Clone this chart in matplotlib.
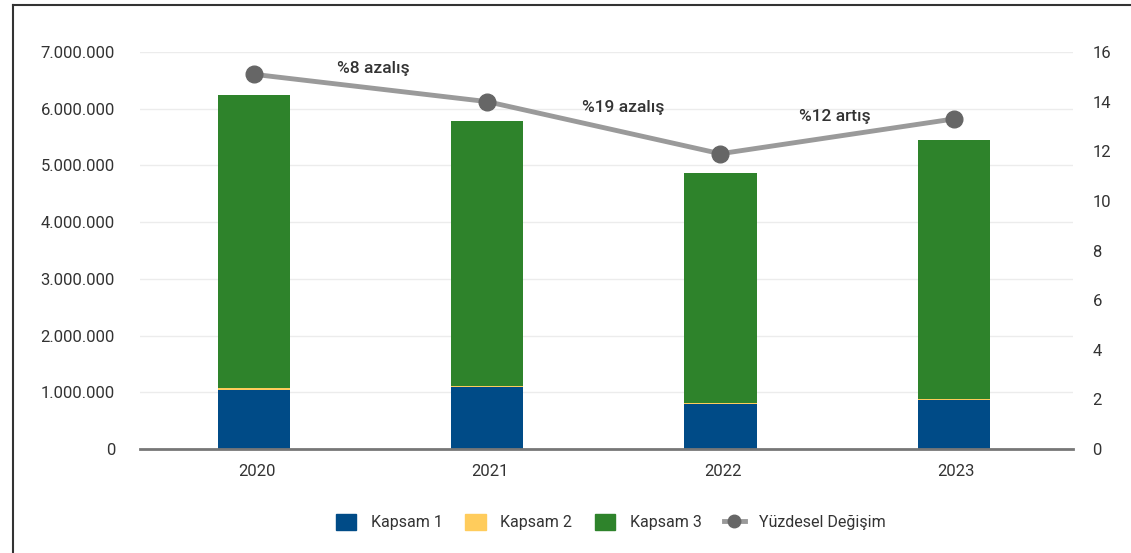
import matplotlib
matplotlib.use("Agg")
import matplotlib.pyplot as plt
from matplotlib.lines import Line2D
from matplotlib.ticker import FuncFormatter
import numpy as np

plt.rcParams['font.family'] = ['Roboto', 'DejaVu Sans']

# data
years = ['2020', '2021', '2022', '2023']
kapsam1 = [1040000, 1090000, 790000, 860000]
kapsam2 = [30000, 25000, 20000, 22000]
kapsam3 = [5170000, 4665000, 4060000, 4568000]
degisim = [15.1, 14.0, 11.9, 13.3]
notes = ['%8 azalış', '%19 azalış', '%12 artış']

c1, c2, c3 = '#004b87', '#ffcc5c', '#2e832b'
txt = '#333333'

fig = plt.figure(figsize=(11.31, 5.53), dpi=100)
ax = fig.add_axes([0.1238, 0.188, 0.825, 0.718])
x = np.arange(len(years))
w = 0.31
k1 = np.array(kapsam1)
k2 = np.array(kapsam2)
k3 = np.array(kapsam3)
ax.bar(x - 0.012, k1, w, color=c1, zorder=2)
ax.bar(x - 0.012, k2, w, bottom=k1, color=c2, zorder=2)
ax.bar(x - 0.012, k3, w, bottom=k1 + k2, color=c3, zorder=2)

ax.set_xlim(-0.5, 3.5)
ax.set_ylim(0, 7000000)
ax.set_yticks(np.arange(0, 7000001, 1000000))
ax.yaxis.set_major_formatter(FuncFormatter(lambda v, p: f'{int(v):,}'.replace(',', '.')))
ax.set_xticks(x)
ax.set_xticklabels(years)
ax.grid(axis='y', color='#ececec', linewidth=1, zorder=0)
for s in ['top', 'right', 'left']:
    ax.spines[s].set_visible(False)
ax.spines['bottom'].set_color('#777777')
ax.spines['bottom'].set_linewidth(2)
ax.tick_params(axis='both', length=0, labelsize=12, colors=txt)
ax.tick_params(axis='y', pad=18)
ax.tick_params(axis='x', pad=11)

ax2 = ax.twinx()
ax2.set_ylim(0, 16)
ax2.set_yticks(np.arange(0, 17, 2))
ax2.plot(x - 0.012, degisim, color='#9a9a9a', linewidth=3.5, marker='o', markersize=12,
         markerfacecolor='#666666', markeredgecolor='#666666', zorder=3)
for s in ax2.spines.values():
    s.set_visible(False)
ax2.tick_params(axis='y', length=0, labelsize=12, colors=txt, pad=14)

note_dx = [0.0, 0.07, -0.02]
for i, n in enumerate(notes):
    mid = (degisim[i] + degisim[i + 1]) / 2
    ax2.text(i + 0.5 + note_dx[i], mid + 0.8, n, ha='center', va='center', fontsize=12.5,
             fontweight='medium', color=txt)

handles = [
    plt.Rectangle((0, 0), 1, 1, color=c1),
    plt.Rectangle((0, 0), 1, 1, color=c2),
    plt.Rectangle((0, 0), 1, 1, color=c3),
    Line2D([0], [0], color='#9a9a9a', linewidth=3.5, marker='o', markersize=9,
           markerfacecolor='#666666', markeredgecolor='#666666'),
]
fig.legend(handles, ['Kapsam 1', 'Kapsam 2', 'Kapsam 3', 'Yüzdesel Değişim'],
           loc='center', bbox_to_anchor=(0.54, 0.056), ncol=4, frameon=False,
           fontsize=11.5, handlelength=1.3, handleheight=1.2, handletextpad=0.9,
           columnspacing=1.4, labelcolor=txt)

# frame lines at left and top of picture
fig.add_artist(Line2D([13 / 1131, 13 / 1131], [0, 1 - 5 / 553], color='#333333',
                      linewidth=1.5, transform=fig.transFigure))
fig.add_artist(Line2D([13 / 1131, 1], [1 - 5 / 553, 1 - 5 / 553], color='#333333',
                      linewidth=1.5, transform=fig.transFigure))

fig.savefig('out.png', dpi=100)
